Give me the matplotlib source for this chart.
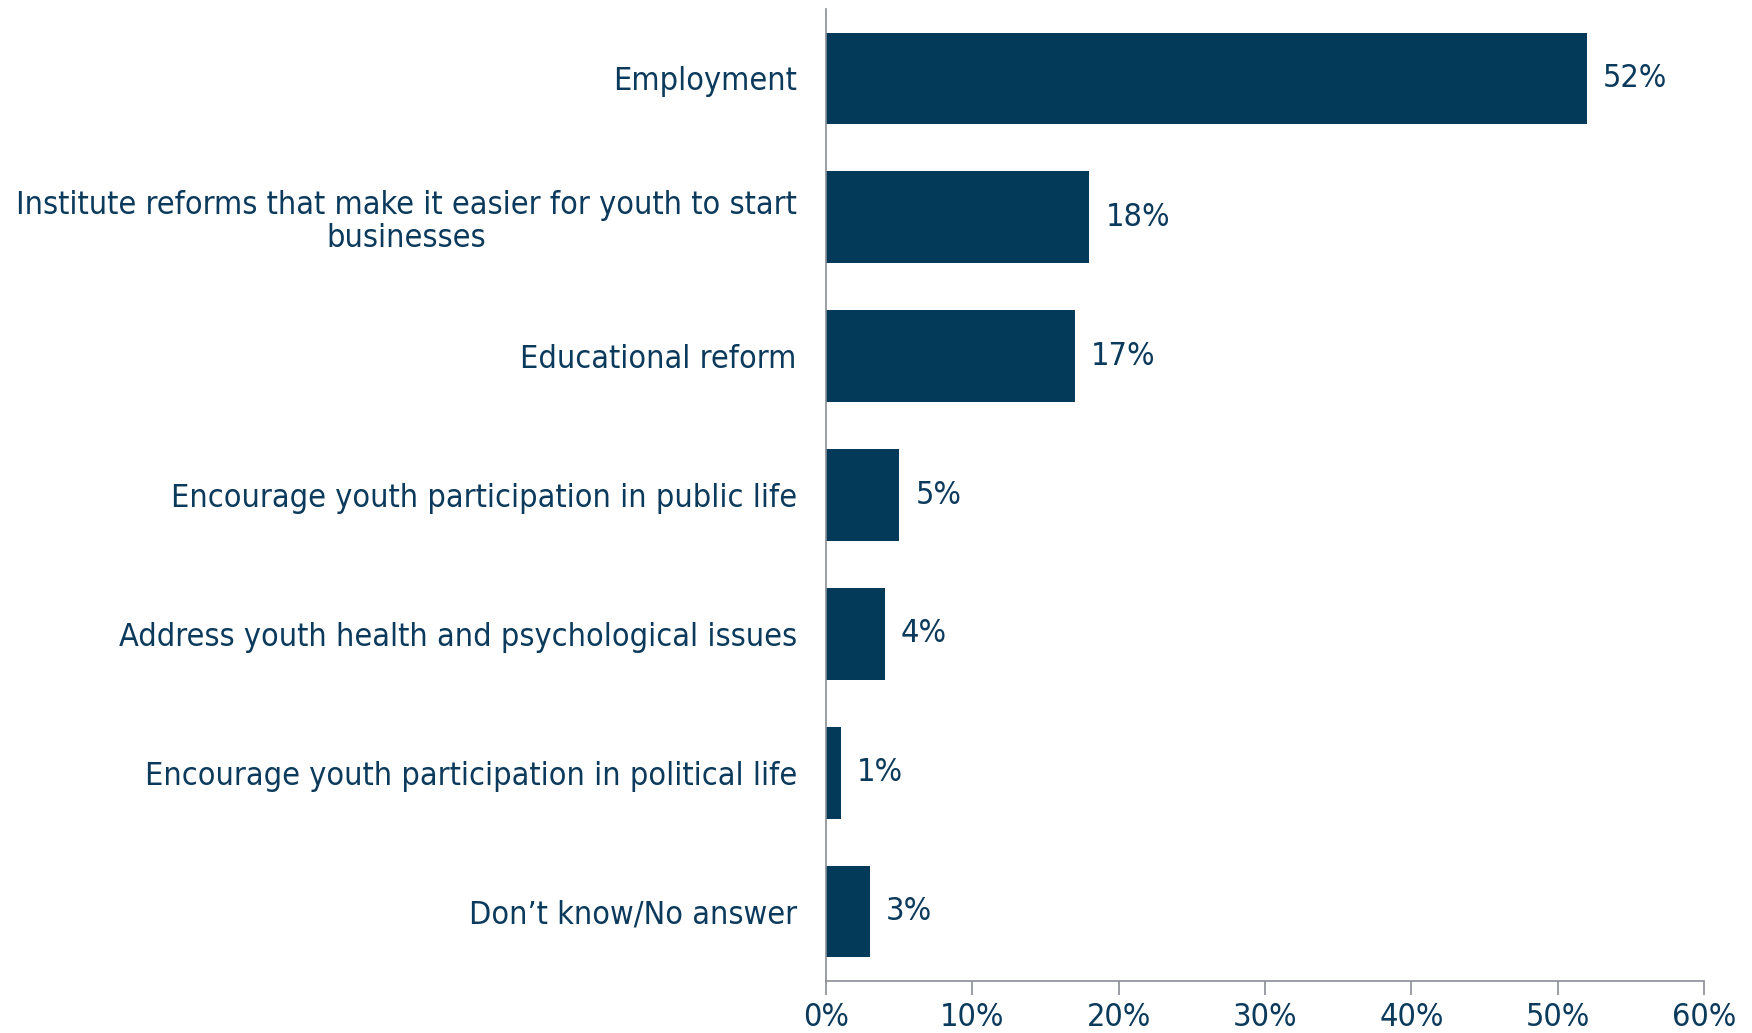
import matplotlib
matplotlib.use('Agg')
import matplotlib.pyplot as plt
import numpy as np

categories = ['Employment',
              'Institute reforms that make it easier for youth to start\nbusinesses',
              'Educational reform',
              'Encourage youth participation in public life',
              'Address youth health and psychological issues',
              'Encourage youth participation in political life',
              'Don\u2019t know/No answer']
values = [52, 18, 17, 5, 4, 1, 3]
xticks = [0, 10, 20, 30, 40, 50, 60]

navy = '#033a5a'
txt = '#0b3a5c'
grey = '#8a8f96'
fs = 23.2

plt.rcParams['font.family'] = ['DejaVu Sans']
plt.rcParams['font.stretch'] = 'condensed'

fig = plt.figure(figsize=(17.52, 10.33), dpi=100)
ax = fig.add_axes([826/1752, 1-981/1033, (1704-826)/1752, (981-9)/1033])

y = np.arange(len(categories))
ax.barh(y, values, height=0.66, color=navy)
for yi, v in zip(y, values):
    ax.text(v + 1.1, yi, '{}%'.format(v), va='center', ha='left', fontsize=fs, color=txt)

ax.set_ylim(len(categories) - 0.5, -0.5)
ax.set_xlim(0, 60)
ax.set_yticks(y)
ax.set_yticklabels(categories, fontsize=fs, color=txt, ha='right',
                   multialignment='center', linespacing=1.1)
ax.tick_params(axis='y', length=0, pad=21)
ax.set_xticks(xticks)
ax.set_xticklabels(['{}%'.format(t) for t in xticks], fontsize=fs, color=txt)
ax.tick_params(axis='x', length=10, color=grey, width=1.2, pad=5)
for s in ['top', 'right']:
    ax.spines[s].set_visible(False)
for s in ['left', 'bottom']:
    ax.spines[s].set_color(grey)
    ax.spines[s].set_linewidth(1.2)

plt.savefig('out.png', dpi=100)
